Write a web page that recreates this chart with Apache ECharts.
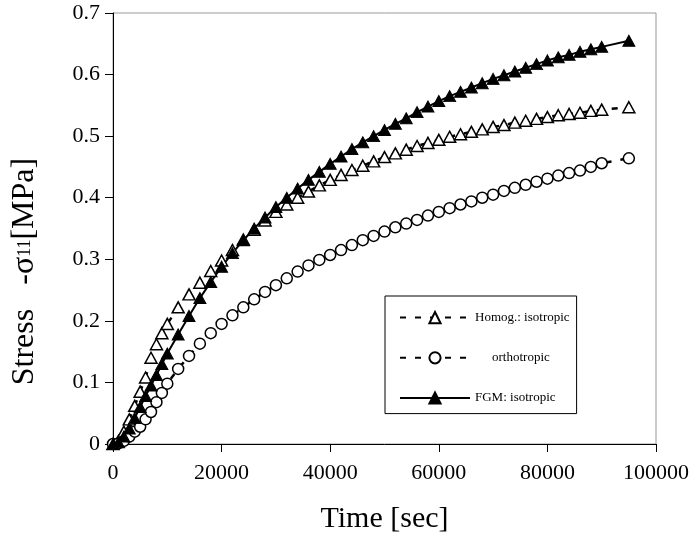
<!DOCTYPE html>
<html>
<head>
<meta charset="utf-8">
<script src="https://cdn.jsdelivr.net/npm/echarts@6/dist/echarts.min.js"></script>
<style>
html,body{margin:0;padding:0;background:#fff;}
#chart{width:697px;height:552px;}
</style>
</head>
<body>
<div id="chart"></div>
<script>
// Time points [sec]
const time = [0,1000,2000,3000,4000,5000,6000,7000,8000,9000,10000,
  12000,14000,16000,18000,20000,22000,24000,26000,28000,30000,
  32000,34000,36000,38000,40000,42000,44000,46000,48000,50000,
  52000,54000,56000,58000,60000,62000,64000,66000,68000,70000,
  72000,74000,76000,78000,80000,82000,84000,86000,88000,90000,95000];

// Homog.: isotropic (open triangles)
const homogIso = [0,0.005,0.02,0.04,0.062,0.085,0.108,0.14,0.162,0.18,0.195,
  0.222,0.243,0.262,0.281,0.298,0.315,0.332,0.348,0.363,0.377,
  0.389,0.4,0.41,0.42,0.429,0.437,0.445,0.452,0.459,0.466,
  0.472,0.478,0.484,0.489,0.494,0.499,0.503,0.507,0.511,0.515,
  0.518,0.522,0.525,0.528,0.531,0.534,0.536,0.538,0.541,0.543,0.547];

// Homog.: orthotropic (open circles)
const homogOrtho = [0,0.001,0.005,0.012,0.02,0.028,0.04,0.052,0.068,0.083,0.098,
  0.122,0.143,0.163,0.18,0.195,0.209,0.222,0.235,0.247,0.258,
  0.269,0.28,0.29,0.299,0.307,0.315,0.323,0.331,0.338,0.345,
  0.352,0.358,0.364,0.371,0.377,0.383,0.389,0.394,0.4,0.405,
  0.411,0.416,0.421,0.426,0.431,0.436,0.44,0.444,0.45,0.456,0.464];

// FGM: isotropic (filled triangles)
const fgmIso = [0,0.003,0.012,0.025,0.042,0.06,0.078,0.095,0.112,0.13,0.147,
  0.178,0.208,0.237,0.263,0.288,0.31,0.331,0.35,0.368,0.385,
  0.4,0.415,0.429,0.442,0.455,0.467,0.479,0.49,0.5,0.51,
  0.52,0.529,0.539,0.548,0.557,0.565,0.572,0.579,0.586,0.593,
  0.599,0.605,0.611,0.617,0.623,0.628,0.632,0.637,0.641,0.645,0.655];

const seriesNames = ['Homog.: isotropic', 'orthotropic', 'FGM: isotropic'];
const xTicks = {min: 0, max: 100000, interval: 20000};
const yTicks = {min: 0, max: 0.7, interval: 0.1};

const zip = (ys) => time.map((t, i) => [t, ys[i]]);
const font = 'Liberation Serif, Times New Roman, serif';

const chart = echarts.init(document.getElementById('chart'), null, {renderer: 'canvas'});
chart.setOption({
  animation: false,
  backgroundColor: '#fff',
  textStyle: {fontFamily: font, color: '#000'},
  grid: {left: 113, top: 13, right: 41, bottom: 108, show: true, borderColor: '#999', borderWidth: 1, backgroundColor: 'transparent'},
  xAxis: {
    type: 'value', min: xTicks.min, max: xTicks.max, interval: xTicks.interval,
    name: 'Time [sec]', nameLocation: 'middle', nameGap: 60,
    nameTextStyle: {fontFamily: font, fontSize: 30, color: '#000'},
    axisLine: {show: true, lineStyle: {color: '#000', width: 1}},
    axisTick: {show: true, inside: false, length: 8, lineStyle: {color: '#000'}},
    axisLabel: {fontFamily: font, fontSize: 22, color: '#000', margin: 18, formatter: v => String(v)},
    splitLine: {show: false}
  },
  yAxis: {
    type: 'value', min: yTicks.min, max: yTicks.max, interval: yTicks.interval,
    name: '{a|Stress   -σ}{b|11}{a|[MPa]}', nameLocation: 'middle', nameGap: 72, nameRotate: 90,
    nameTextStyle: {fontFamily: font, fontSize: 32, color: '#000', padding: [0, 86, 0, 0],
      rich: {a: {fontFamily: font, fontSize: 32, color: '#000'}, b: {fontFamily: font, fontSize: 18, color: '#000'}}},
    axisLine: {show: true, lineStyle: {color: '#000', width: 1}},
    axisTick: {show: true, inside: false, length: 8, lineStyle: {color: '#000'}},
    axisLabel: {fontFamily: font, fontSize: 22, color: '#000', margin: 13,
      formatter: v => (v === 0 ? '0' : v.toFixed(1))},
    splitLine: {show: false}
  },
  legend: {
    show: true, orient: 'vertical', left: 385, top: 296,
    backgroundColor: '#fff', borderColor: '#000', borderWidth: 1,
    padding: [15, 7, 9, 14], itemGap: 27, itemWidth: 70, itemHeight: 14,
    data: seriesNames,
    textStyle: {fontFamily: font, fontSize: 13, color: '#000',
      rich: {sp: {width: 17}}},
    formatter: name => (name === 'orthotropic' ? '{sp|}' + name : name)
  },
  series: [
    {
      name: seriesNames[0], type: 'line', data: zip(homogIso),
      showAllSymbol: true, symbol: 'triangle', symbolSize: [12, 11],
      lineStyle: {color: '#000', width: 2.5, type: [6, 9]},
      itemStyle: {color: '#fff', borderColor: '#000', borderWidth: 1.5}
    },
    {
      name: seriesNames[1], type: 'line', data: zip(homogOrtho),
      showAllSymbol: true, symbol: 'circle', symbolSize: 11,
      lineStyle: {color: '#000', width: 2.5, type: [6, 9]},
      itemStyle: {color: '#fff', borderColor: '#000', borderWidth: 1.5}
    },
    {
      name: seriesNames[2], type: 'line', data: zip(fgmIso),
      showAllSymbol: true, symbol: 'triangle', symbolSize: [12, 11],
      lineStyle: {color: '#000', width: 2},
      itemStyle: {color: '#000', borderColor: '#000', borderWidth: 1}
    }
  ]
});
</script>
</body>
</html>
